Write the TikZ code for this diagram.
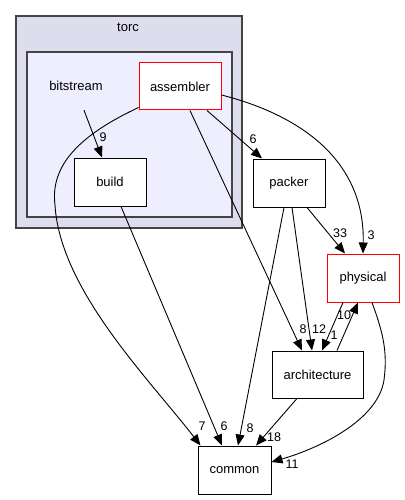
\documentclass[tikz,border=0pt]{standalone}
\usepackage{fontspec}
\setmainfont{Liberation Sans}
\usepackage{tikz}
\usetikzlibrary{arrows.meta}

\definecolor{outerfill}{HTML}{DDDDEE}
\definecolor{innerfill}{HTML}{EEEEFF}
\definecolor{clusterline}{HTML}{444444}

\begin{document}
\begin{tikzpicture}[x=1pt, y=-1pt,
    dir/.style={draw, fill=white, line width=1pt, inner sep=0pt,
                font=\fontsize{13}{15}\selectfont},
    dirred/.style={dir, draw=red},
    lbl/.style={inner sep=0pt, font=\fontsize{12.5}{14}\selectfont},
    dep/.style={line width=0.9pt, -{Triangle[length=11pt, width=9pt]}}]
            \useasboundingbox (0,0) rectangle (404,500);

            % clusters
            \draw[clusterline, fill=outerfill, line width=1.3pt] (16,16) rectangle (242,228);
            \draw[clusterline, fill=innerfill, line width=1.3pt] (27,52) rectangle (232,217);
            \node (torc) at (128,27) [lbl, font=\fontsize{13}{15}\selectfont] {torc};

            \node (bitstream) at (76,86) [inner sep=0pt, minimum height=48pt, font=\fontsize{13}{15}\selectfont] {bitstream};
            \node (assembler) at (180,86.5) [dirred, minimum width=82pt, minimum height=47pt] {assembler};
            \node (build) at (110,182) [dir, minimum width=72pt, minimum height=48pt] {build};
            \node (packer) at (289,183) [dir, minimum width=72pt, minimum height=48pt] {packer};
            \node (physical) at (363,278) [dirred, minimum width=72pt, minimum height=48pt] {physical};
            \node (architecture) at (317.5,374.5) [dir, minimum width=91pt, minimum height=47pt] {architecture};
            \node (common) at (234.5,470) [dir, minimum width=73pt, minimum height=48pt] {common};

            \draw[dep] ([xshift=8pt]bitstream.south) -- ([xshift=-8pt]build.north);
            \draw[dep] ([yshift=3pt]assembler.south west) .. controls (80,135) and (50,165) .. (55,205)
                .. controls (60,290) and (150,380) .. ([xshift=-34pt]common.north);
            \draw[dep] ([xshift=11pt]build.south) -- ([xshift=-12.5pt]common.north);
            \draw[dep] ([xshift=10pt]assembler.south) -- ([xshift=-15.5pt]architecture.north);
            \draw[dep] ([xshift=27pt]assembler.south) -- ([xshift=-27pt]packer.north);
            \draw[dep] ([yshift=-8.5pt]assembler.east) .. controls (300,115) and (365,160) .. (physical.north);
            \draw[dep] ([xshift=18pt]packer.south) -- ([xshift=-18pt]physical.north);
            \draw[dep] ([xshift=-5pt]packer.south) -- ([xshift=3.5pt]common.north);
            \draw[dep] ([xshift=3pt]packer.south) -- ([xshift=-5.5pt]architecture.north);
            \draw[dep] ([xshift=-20pt]physical.south) -- ([xshift=4.5pt]architecture.north);
            \draw[dep] ([xshift=19.5pt]architecture.north) -- ([xshift=-5pt]physical.south);
            \draw[dep] ([xshift=-20.5pt]architecture.south) -- ([xshift=21.5pt]common.north);
            \draw[dep] ([xshift=9pt]physical.south) .. controls (382,330) and (388,350) .. (384,380)
                .. controls (378,420) and (320,448) .. ([yshift=8pt]common.east);

            % edge labels
            \node (l9) at (103,137) [lbl] {9};
            \node (l6a) at (253,139) [lbl] {6};
            \node (l33) at (340,233) [lbl] {33};
            \node (l3) at (371,235) [lbl] {3};
            \node (l10) at (344,315) [lbl] {10};
            \node (l8a) at (303,329) [lbl] {8};
            \node (l12) at (319,329) [lbl] {12};
            \node (l1) at (334,335) [lbl] {1};
            \node (l7) at (202,426) [lbl] {7};
            \node (l6b) at (224,426) [lbl] {6};
            \node (l8b) at (250,428) [lbl] {8};
            \node (l18) at (274,437) [lbl] {18};
            \node (l11) at (292,464) [lbl] {11};
        \end{tikzpicture}
\end{document}
